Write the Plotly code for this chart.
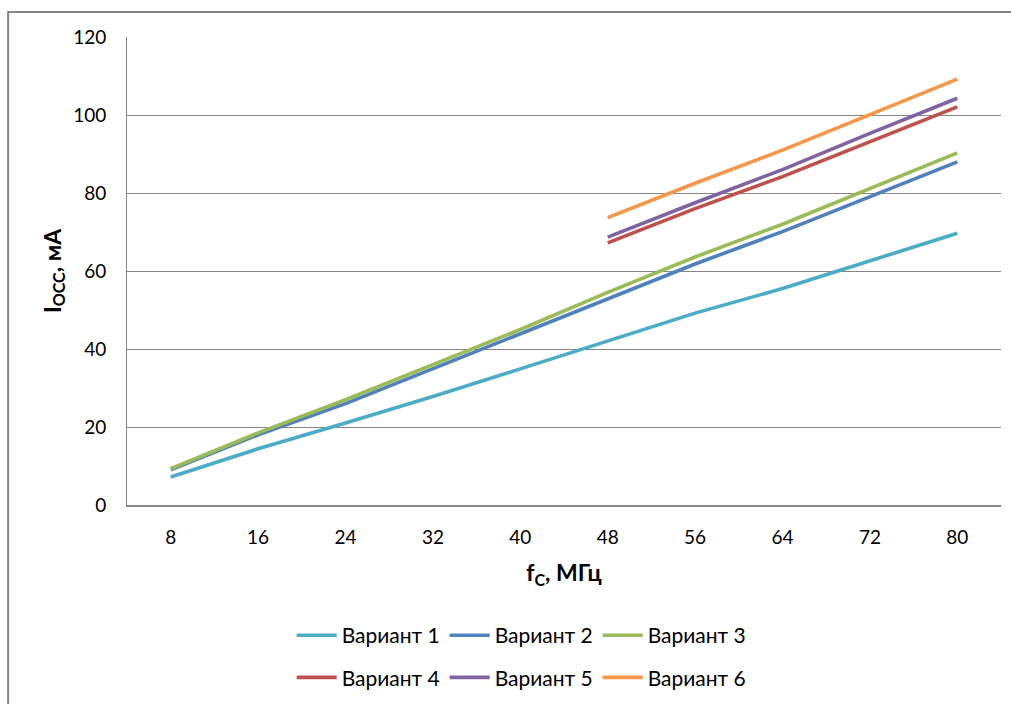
import plotly.graph_objects as go

freq = ["8", "16", "24", "32", "40", "48", "56", "64", "72", "80"]

var1 = [7.2, 14.4, 21.0, 27.8, 34.9, 42.0, 49.2, 55.5, 62.5, 69.7]
var2 = [9.0, 18.0, 26.0, 35.0, 44.0, 53.0, 61.8, 70.1, 79.0, 88.0]
var3 = [9.3, 18.5, 27.0, 36.0, 45.0, 54.5, 63.6, 72.0, 81.2, 90.3]
var4 = [None, None, None, None, None, 67.2, 76.0, 84.2, 93.2, 102.1]
var5 = [None, None, None, None, None, 68.7, 77.5, 86.0, 95.3, 104.3]
var6 = [None, None, None, None, None, 73.7, 82.5, 91.0, 100.2, 109.2]

series = [
    ("Вариант 1", var1, "#4BACC6", "legend"),
    ("Вариант 2", var2, "#4F81BD", "legend"),
    ("Вариант 3", var3, "#9BBB59", "legend"),
    ("Вариант 4", var4, "#C0504D", "legend2"),
    ("Вариант 5", var5, "#8064A2", "legend2"),
    ("Вариант 6", var6, "#F79646", "legend2"),
]

FONT = "Lato"
GRID = "#868686"

fig = go.Figure()
for name, vals, color, leg in series:
    fig.add_trace(go.Scatter(
        x=freq, y=vals, name=name, mode="lines",
        line=dict(color=color, width=3.6),
        legend=leg,
    ))

legend_style = dict(
    orientation="h", xanchor="center", yanchor="middle",
    x=0.451, font=dict(family=FONT, size=21, color="#000000"),
    entrywidth=98, itemwidth=40, bgcolor="rgba(0,0,0,0)",
)

fig.update_layout(
    width=1011, height=704,
    paper_bgcolor="white", plot_bgcolor="white",
    margin=dict(l=127, r=10, t=37, b=199, autoexpand=False),
    font=dict(family=FONT, size=19, color="#000000"),
    legend=dict(**legend_style, y=-0.279),
    legend2=dict(**legend_style, y=-0.369),
    xaxis=dict(
        type="category", range=[-0.5, 9.5], automargin=False,
        showgrid=False, showline=True, linecolor=GRID, linewidth=2,
        ticks="outside", ticklen=14, tickcolor="rgba(0,0,0,0)",
        tickfont=dict(family=FONT, size=19),
        title=dict(text="<b>f<sub>С</sub>, МГц</b>", font=dict(family=FONT, size=23), standoff=18),
    ),
    yaxis=dict(
        range=[0, 120], dtick=20, automargin=False,
        showgrid=True, gridcolor=GRID, gridwidth=1,
        showline=True, linecolor=GRID, linewidth=1,
        zeroline=False,
        ticks="outside", ticklen=16, tickcolor="rgba(0,0,0,0)",
        tickfont=dict(family=FONT, size=19),
        title=dict(text="<b>I<sub>ОСС</sub>, мА</b>", font=dict(family=FONT, size=23), standoff=5),
    ),
)

# outer chart-area border
fig.add_shape(type="rect", xref="paper", yref="paper",
              x0=-0.136, x1=1.02, y0=-0.45, y1=1.0534,
              line=dict(color=GRID, width=2), layer="below")

# page has a default body margin; remove it so the figure sits at the window origin
fig.write_html("out.html", config={"displayModeBar": False},
               post_script="document.body.style.margin='0';")
